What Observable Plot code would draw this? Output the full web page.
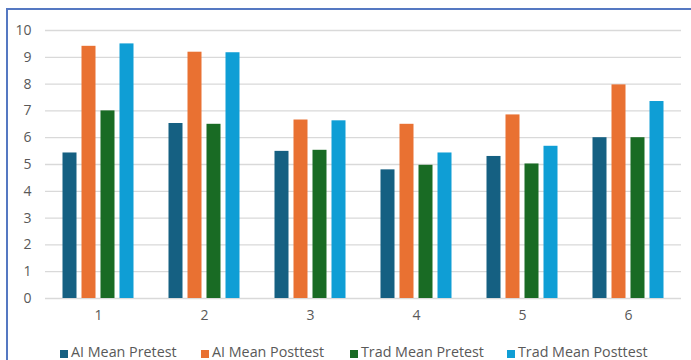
<!DOCTYPE html>
<html>
<head>
<meta charset="utf-8">
<script src="https://cdn.jsdelivr.net/npm/d3@7"></script>
<script src="https://cdn.jsdelivr.net/npm/@observablehq/plot@0.6"></script>
<style>
  html, body { margin: 0; padding: 0; background: #fff; }
  #wrap { position: relative; width: 691px; height: 360px; overflow: hidden; font-family: "Open Sans", "Liberation Sans", sans-serif; }
  #frame { position: absolute; left: 6px; top: 8px; right: -4px; bottom: -4px; border-top: 2px solid #5578c2; border-left: 2px solid #5578c2; pointer-events: none; }
  #chart { position: absolute; left: 0; top: 0; }
  #legend { position: absolute; top: 342px; left: 0; width: 691px; height: 19px; font-size: 14.3px; color: #595959; }
  .item { position: absolute; display: flex; align-items: center; white-space: nowrap; }
  .sw { width: 8px; height: 8px; margin-right: 3px; margin-top: 4px; }
</style>
</head>
<body>
<div id="wrap">
  <div id="chart"></div>
  <div id="legend"></div>
  <div id="frame"></div>
</div>
<script>
// Test groups along the horizontal axis
const groups = ["1", "2", "3", "4", "5", "6"];
// Series names, in drawing order
const series = ["AI Mean Pretest", "AI Mean Posttest", "Trad Mean Pretest", "Trad Mean Posttest"];
const seriesColors = ["#156082", "#E97132", "#196B24", "#0F9ED5"];
// Mean scores per group
const aiPre = [5.43, 6.53, 5.49, 4.80, 5.30, 6.00];
const aiPost = [9.41, 9.19, 6.66, 6.50, 6.85, 7.97];
const tradPre = [7.00, 6.50, 5.53, 4.97, 5.02, 6.00];
const tradPost = [9.50, 9.17, 6.63, 5.43, 5.68, 7.35];
const yTicks = [0, 1, 2, 3, 4, 5, 6, 7, 8, 9, 10];

const valuesBySeries = [aiPre, aiPost, tradPre, tradPost];
const rows = [];
groups.forEach((g, i) => {
  series.forEach((s, j) => rows.push({group: g, series: s, value: valuesBySeries[j][i]}));
});

const chart = Plot.plot({
  width: 691,
  height: 330,
  marginLeft: 44,
  marginRight: 9,
  marginTop: 30,
  marginBottom: 32,
  style: {fontFamily: "'Open Sans', 'Liberation Sans', sans-serif", fontSize: "14px", color: "#595959", background: "transparent"},
  fx: {domain: groups, padding: 0, label: null, axis: "bottom", tickSize: 0, tickPadding: 12},
  x: {domain: series, axis: null, paddingInner: 0.2, paddingOuter: 0.86},
  y: {domain: [0, 10], ticks: yTicks, label: null, tickSize: 0, tickPadding: 14},
  color: {domain: series, range: seriesColors},
  marks: [
    Plot.ruleY(yTicks, {stroke: "#d9d9d9", strokeWidth: 1.3}),
    Plot.barY(rows, {fx: "group", x: "series", y: "value", fill: "series", insetLeft: 0.5, insetRight: 0.5}),
    Plot.axisY({ticks: yTicks, tickSize: 0, tickPadding: 14, fill: "#595959", fontSize: 14})
  ]
});
document.getElementById("chart").appendChild(chart);

// Legend below the plot
const legendX = [60, 201, 350, 507];
const legend = document.getElementById("legend");
series.forEach((s, i) => {
  const item = document.createElement("div");
  item.className = "item";
  item.style.left = legendX[i] + "px";
  const sw = document.createElement("span");
  sw.className = "sw";
  sw.style.background = seriesColors[i];
  const label = document.createElement("span");
  label.textContent = s;
  item.appendChild(sw);
  item.appendChild(label);
  legend.appendChild(item);
});
</script>
</body>
</html>
